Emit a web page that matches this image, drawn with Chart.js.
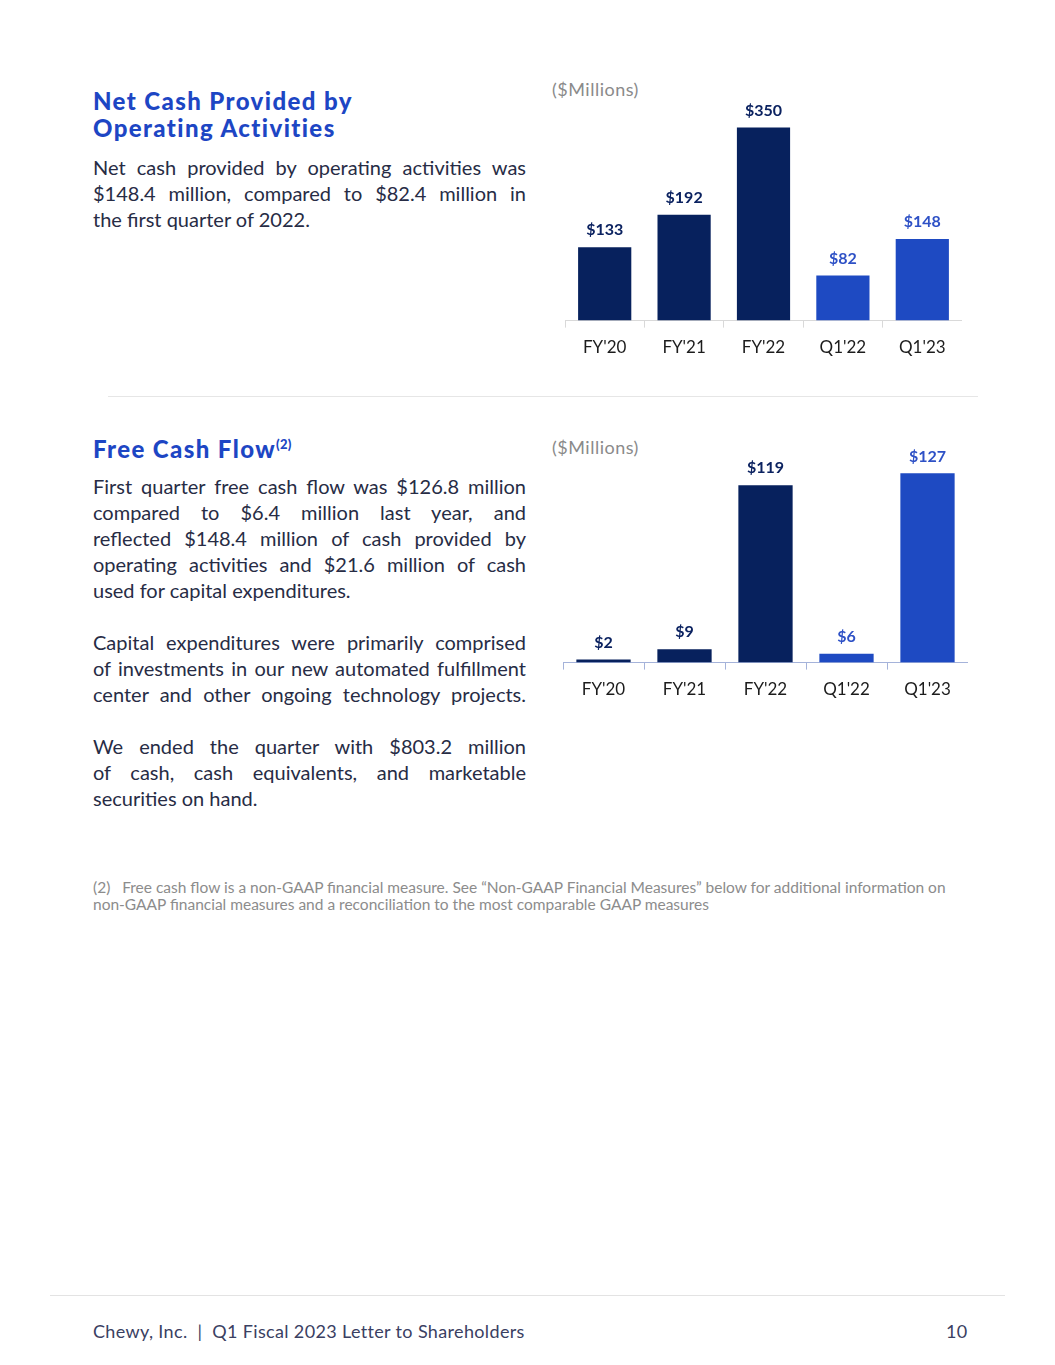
<!DOCTYPE html>
<html>
<head>
<meta charset="utf-8">
<script src="https://cdn.jsdelivr.net/npm/chart.js@4.4.0/dist/chart.umd.min.js"></script>
<style>
  body { margin: 0; background: #fff; font-family: Lato, "Noto Sans", sans-serif; }
  .page { position: relative; width: 1055px; height: 1365px; overflow: hidden; }
  .abs { position: absolute; }
  h2 { margin: 0; font-size: 24px; line-height: 27px; font-weight: 900; color: #1d46c4; letter-spacing: 1.4px; }
  h2 sup { font-size: 13px; vertical-align: 9px; line-height: 0; letter-spacing: 0.3px; }
  .body { width: 433px; font-size: 20px; line-height: 26px; color: #272c45; }
  .body div { white-space: nowrap; text-align: justify; text-align-last: justify; }
  .body div.last { text-align-last: left; }
  .body div.tight { word-spacing: -3px; }
  .gap { height: 26px; }
  .units { font-size: 18px; color: #8a8a8a; letter-spacing: 0.5px; }
  .note { font-size: 15.5px; line-height: 17px; color: #8c8c8c; }
  .footer { font-size: 18px; color: #3a4062; letter-spacing: 0.35px; }
</style>
</head>
<body>
<div class="page">
  <div class="abs" style="left:93px; top:87px;">
    <h2>Net Cash Provided by<br>Operating Activities</h2>
  </div>
  <div class="abs body" style="left:93px; top:154px;">
    <div>Net cash provided by operating activities was</div>
    <div>$148.4 million, compared to $82.4 million in</div>
    <div class="last">the first quarter of 2022.</div>
  </div>
  <div class="abs units" style="left:552px; top:78px;">($Millions)</div>
  <div class="abs" style="left:565px; top:90px; width:397px; height:278px;"><canvas id="netCashChart"></canvas></div>

  <div class="abs" style="left:108px; top:396px; width:870px; height:1px; background:#e6e6e6;"></div>

  <div class="abs" style="left:93px; top:435px;">
    <h2>Free Cash Flow<sup>(2)</sup></h2>
  </div>
  <div class="abs body" style="left:93px; top:473px;">
    <div>First quarter free cash flow was $126.8 million</div>
    <div>compared to $6.4 million last year, and</div>
    <div>reflected $148.4 million of cash provided by</div>
    <div>operating activities and $21.6 million of cash</div>
    <div class="last">used for capital expenditures.</div>
    <div class="gap"></div>
    <div class="tight">Capital expenditures were primarily comprised</div>
    <div class="tight">of investments in our new automated fulfillment</div>
    <div class="tight">center and other ongoing technology projects.</div>
    <div class="gap"></div>
    <div>We ended the quarter with $803.2 million</div>
    <div>of cash, cash equivalents, and marketable</div>
    <div class="last">securities on hand.</div>
  </div>
  <div class="abs units" style="left:552px; top:436px;">($Millions)</div>
  <div class="abs" style="left:563px; top:434px; width:405px; height:276px;"><canvas id="freeCashChart"></canvas></div>

  <div class="abs note" style="left:93px; top:879px; width:900px;">
    (2)&nbsp;&nbsp; Free cash flow is a non-GAAP financial measure. See “Non-GAAP Financial Measures” below for additional information on<br>non-GAAP financial measures and a reconciliation to the most comparable GAAP measures
  </div>

  <div class="abs" style="left:50px; top:1295px; width:955px; height:1px; background:#e3e3e3;"></div>
  <div class="abs footer" style="left:93px; top:1320px;">Chewy, Inc.&nbsp; |&nbsp; Q1 Fiscal 2023 Letter to Shareholders</div>
  <div class="abs footer" style="left:946px; top:1320px;">10</div>
</div>

<script>
// chart data
const categories = ["FY'20", "FY'21", "FY'22", "Q1'22", "Q1'23"];
const netCashValues = [133, 192, 350, 82, 148];
const freeCashValues = [2, 9, 119, 6, 127];

// colours: full years in navy, quarters in brighter blue
const NAVY = '#07215d';
const BLUE = '#1e4ac2';
const barColors = [NAVY, NAVY, NAVY, BLUE, BLUE];
const labelColors = ['#0b2260', '#0b2260', '#0b2260', '#2e51c6', '#2e51c6'];

// draws "$value" above each bar
const valueLabels = {
    id: 'valueLabels',
    afterDatasetsDraw(chart) {
        const ctx = chart.ctx;
        const values = chart.data.datasets[0].data;
        chart.getDatasetMeta(0).data.forEach((bar, i) => {
            ctx.save();
            ctx.font = 'bold 16px Lato';
            ctx.fillStyle = labelColors[i];
            ctx.textAlign = 'center';
            ctx.textBaseline = 'middle';
            ctx.fillText('$' + values[i], bar.x, bar.y - 17);
            ctx.restore();
        });
    }
};

function makeBarChart(id, values, yMax, padTop, axisColor) {
    const ctx = document.getElementById(id).getContext('2d');
    return new Chart(ctx, {
        type: 'bar',
        data: {
            labels: categories,
            datasets: [{
                data: values,
                backgroundColor: barColors,
                categoryPercentage: 1,
                barPercentage: 0.67
            }]
        },
        options: {
            responsive: true,
            maintainAspectRatio: false,
            animation: false,
            layout: { padding: { top: padTop, left: 0, right: 0, bottom: 0 } },
            plugins: { legend: { display: false }, tooltip: { enabled: false } },
            scales: {
                x: {
                    grid: { drawOnChartArea: false, drawTicks: true, tickLength: 7, color: axisColor, offset: true },
                    border: { color: axisColor, width: 1 },
                    ticks: { color: '#1c1c1c', font: { family: 'Lato', size: 17 }, padding: 10 }
                },
                y: { display: false, min: 0, max: yMax }
            }
        },
        plugins: [valueLabels]
    });
}

makeBarChart('netCashChart', netCashValues, 400, 10, '#d9d9d9');
makeBarChart('freeCashChart', freeCashValues, 140, 20, '#a5b3da');
</script>
</body>
</html>
